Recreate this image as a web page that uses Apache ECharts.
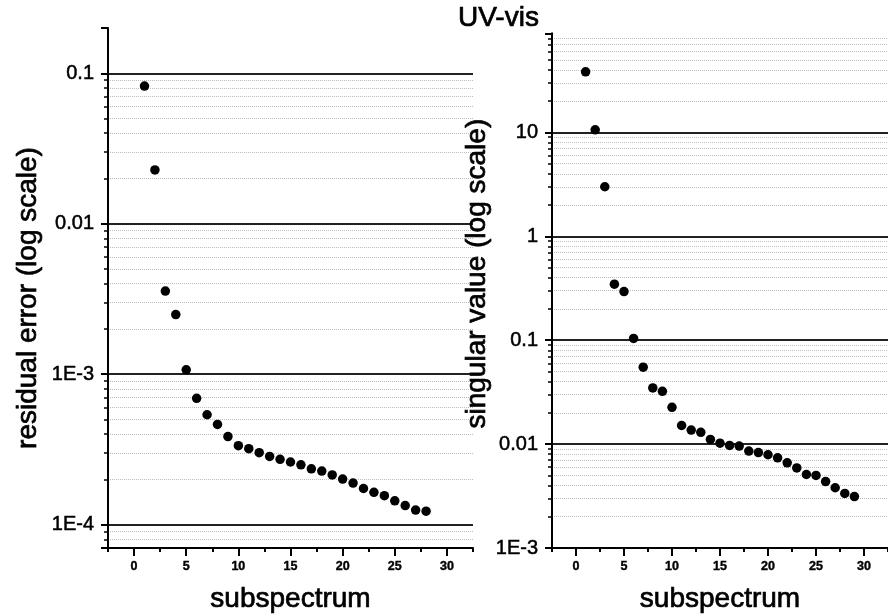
<!DOCTYPE html>
<html><head><meta charset="utf-8">
<script src="https://cdn.jsdelivr.net/npm/echarts@6/dist/echarts.min.js"></script>
<style>html,body{margin:0;padding:0;background:#fff}#c{width:888px;height:614px}</style>
</head><body><div id="c"></div>
<script>
// ---- data ----
const subspectrumLeft = [1,2,3,4,5,6,7,8,9,10,11,12,13,14,15,16,17,18,19,20,21,22,23,24,25,26,27,28];
const residualError = [0.0823,0.0228,0.00357,0.00249,0.00107,6.92e-4,5.38e-4,4.64e-4,3.85e-4,3.35e-4,3.20e-4,3.01e-4,2.84e-4,2.72e-4,2.61e-4,2.50e-4,2.35e-4,2.27e-4,2.14e-4,2.01e-4,1.89e-4,1.74e-4,1.64e-4,1.56e-4,1.44e-4,1.34e-4,1.25e-4,1.23e-4];
const subspectrumRight = [1,2,3,4,5,6,7,8,9,10,11,12,13,14,15,16,17,18,19,20,21,22,23,24,25,26,27,28,29];
const singularValue = [38.3,10.6,3.0,0.346,0.294,0.104,0.055,0.0347,0.0322,0.0226,0.0151,0.01365,0.0130,0.0111,0.0102,0.0097,0.00957,0.00856,0.0083,0.0079,0.00738,0.0066,0.0059,0.0051,0.0050,0.00436,0.0038,0.00335,0.00313];
const xTickValues = [0,5,10,15,20,25,30];
const xMinorTickValues = [-2.5,2.5,7.5,12.5,17.5,22.5,27.5,32.5];
const leftYTickValues = [1e-4,1e-3,0.01,0.1];
const leftYTickLabels = ['1E-4','1E-3','0.01','0.1'];
const rightYTickValues = [1e-3,0.01,0.1,1,10];
const rightYTickLabels = ['1E-3','0.01','0.1','1','10'];
const titleText = 'UV-vis';
const xName = 'subspectrum';
const leftYName = 'residual error (log scale)';
const rightYName = 'singular value (log scale)';

const FONT = 'Liberation Sans, Arial, sans-serif';
function labelFor(vals, labels) {
  return function (v) {
    for (let i = 0; i < vals.length; i++) {
      if (Math.abs(Math.log10(v) - Math.log10(vals[i])) < 1e-6) return labels[i];
    }
    return '';
  };
}
const heavy = {textBorderColor:'#000', textBorderWidth:0.7};
function xAxes(gi) {
  return [
    { type:'value', gridIndex:gi, min:-2.5, max:32.5, position:'bottom',
      axisLine:{show:true, onZero:false, lineStyle:{color:'#000', width:2}},
      axisTick:{show:true, customValues:xTickValues, length:8, lineStyle:{color:'#000', width:2}},
      axisLabel:Object.assign({customValues:xTickValues, fontSize:12.5, fontWeight:'bold', color:'#000', margin:12, fontFamily:FONT}, {textBorderColor:'#000', textBorderWidth:0.4}),
      splitLine:{show:false},
      name:xName, nameLocation:'middle', nameGap:37,
      nameTextStyle:Object.assign({fontSize:28, color:'#000', fontFamily:FONT}, heavy) },
    { type:'value', gridIndex:gi, min:-2.5, max:32.5, position:'bottom',
      axisLine:{show:false, onZero:false},
      axisTick:{show:true, customValues:xMinorTickValues, length:4, lineStyle:{color:'#000', width:2}},
      axisLabel:{show:false}, splitLine:{show:false} }
  ];
}
function yAxis(gi, min, max, vals, labels, name, gap, pad) {
  return { type:'log', logBase:10, gridIndex:gi, min:min, max:max,
    axisLine:{show:true, onZero:false, lineStyle:{color:'#000', width:2}},
    axisTick:{show:true, length:7, lineStyle:{color:'#000', width:2}},
    minorTick:{show:true, splitNumber:9, length:4, lineStyle:{color:'#000', width:1.5}},
    axisLabel:Object.assign({formatter:labelFor(vals, labels), fontSize:20, color:'#000', margin:14, fontFamily:FONT, hideOverlap:false}, {textBorderColor:'#000', textBorderWidth:0.5}),
    splitLine:{show:true, showMinLine:false, showMaxLine:false, lineStyle:{color:'#222', width:1.8}},
    minorSplitLine:{show:true, lineStyle:{color:'#bdbdbd', type:'dotted', width:1}},
    name:name, nameLocation:'middle', nameGap:gap, nameRotate:90,
    nameTextStyle:Object.assign({fontSize:28, color:'#000', fontFamily:FONT, padding:pad}, heavy) };
}

const chart = echarts.init(document.getElementById('c'), null, {renderer:'canvas'});
chart.setOption({
  animation:false,
  backgroundColor:'#fff',
  title:{ text:titleText, left:458, top:4, padding:0,
    textStyle:Object.assign({fontSize:28, fontWeight:'normal', color:'#000', fontFamily:FONT}, heavy) },
  grid:[
    {left:108, top:28, width:365, height:520, containLabel:false, outerBoundsMode:'none'},
    {left:552, top:33.3, width:336, height:514.7, containLabel:false, outerBoundsMode:'none'}
  ],
  xAxis: xAxes(0).concat(xAxes(1)),
  yAxis:[
    yAxis(0, 7e-5, 0.2, leftYTickValues, leftYTickLabels, leftYName, 66, [0,20,0,0]),
    yAxis(1, 1e-3, 90, rightYTickValues, rightYTickLabels, rightYName, 57, [0,0,0,34])
  ],
  series:[
    { type:'scatter', xAxisIndex:0, yAxisIndex:0, symbol:'circle', symbolSize:9.5,
      itemStyle:{color:'#000', opacity:1},
      data: subspectrumLeft.map((x,i)=>[x, residualError[i]]) },
    { type:'scatter', xAxisIndex:2, yAxisIndex:1, symbol:'circle', symbolSize:9.5,
      itemStyle:{color:'#000', opacity:1},
      data: subspectrumRight.map((x,i)=>[x, singularValue[i]]) }
  ]
});
</script></body></html>
